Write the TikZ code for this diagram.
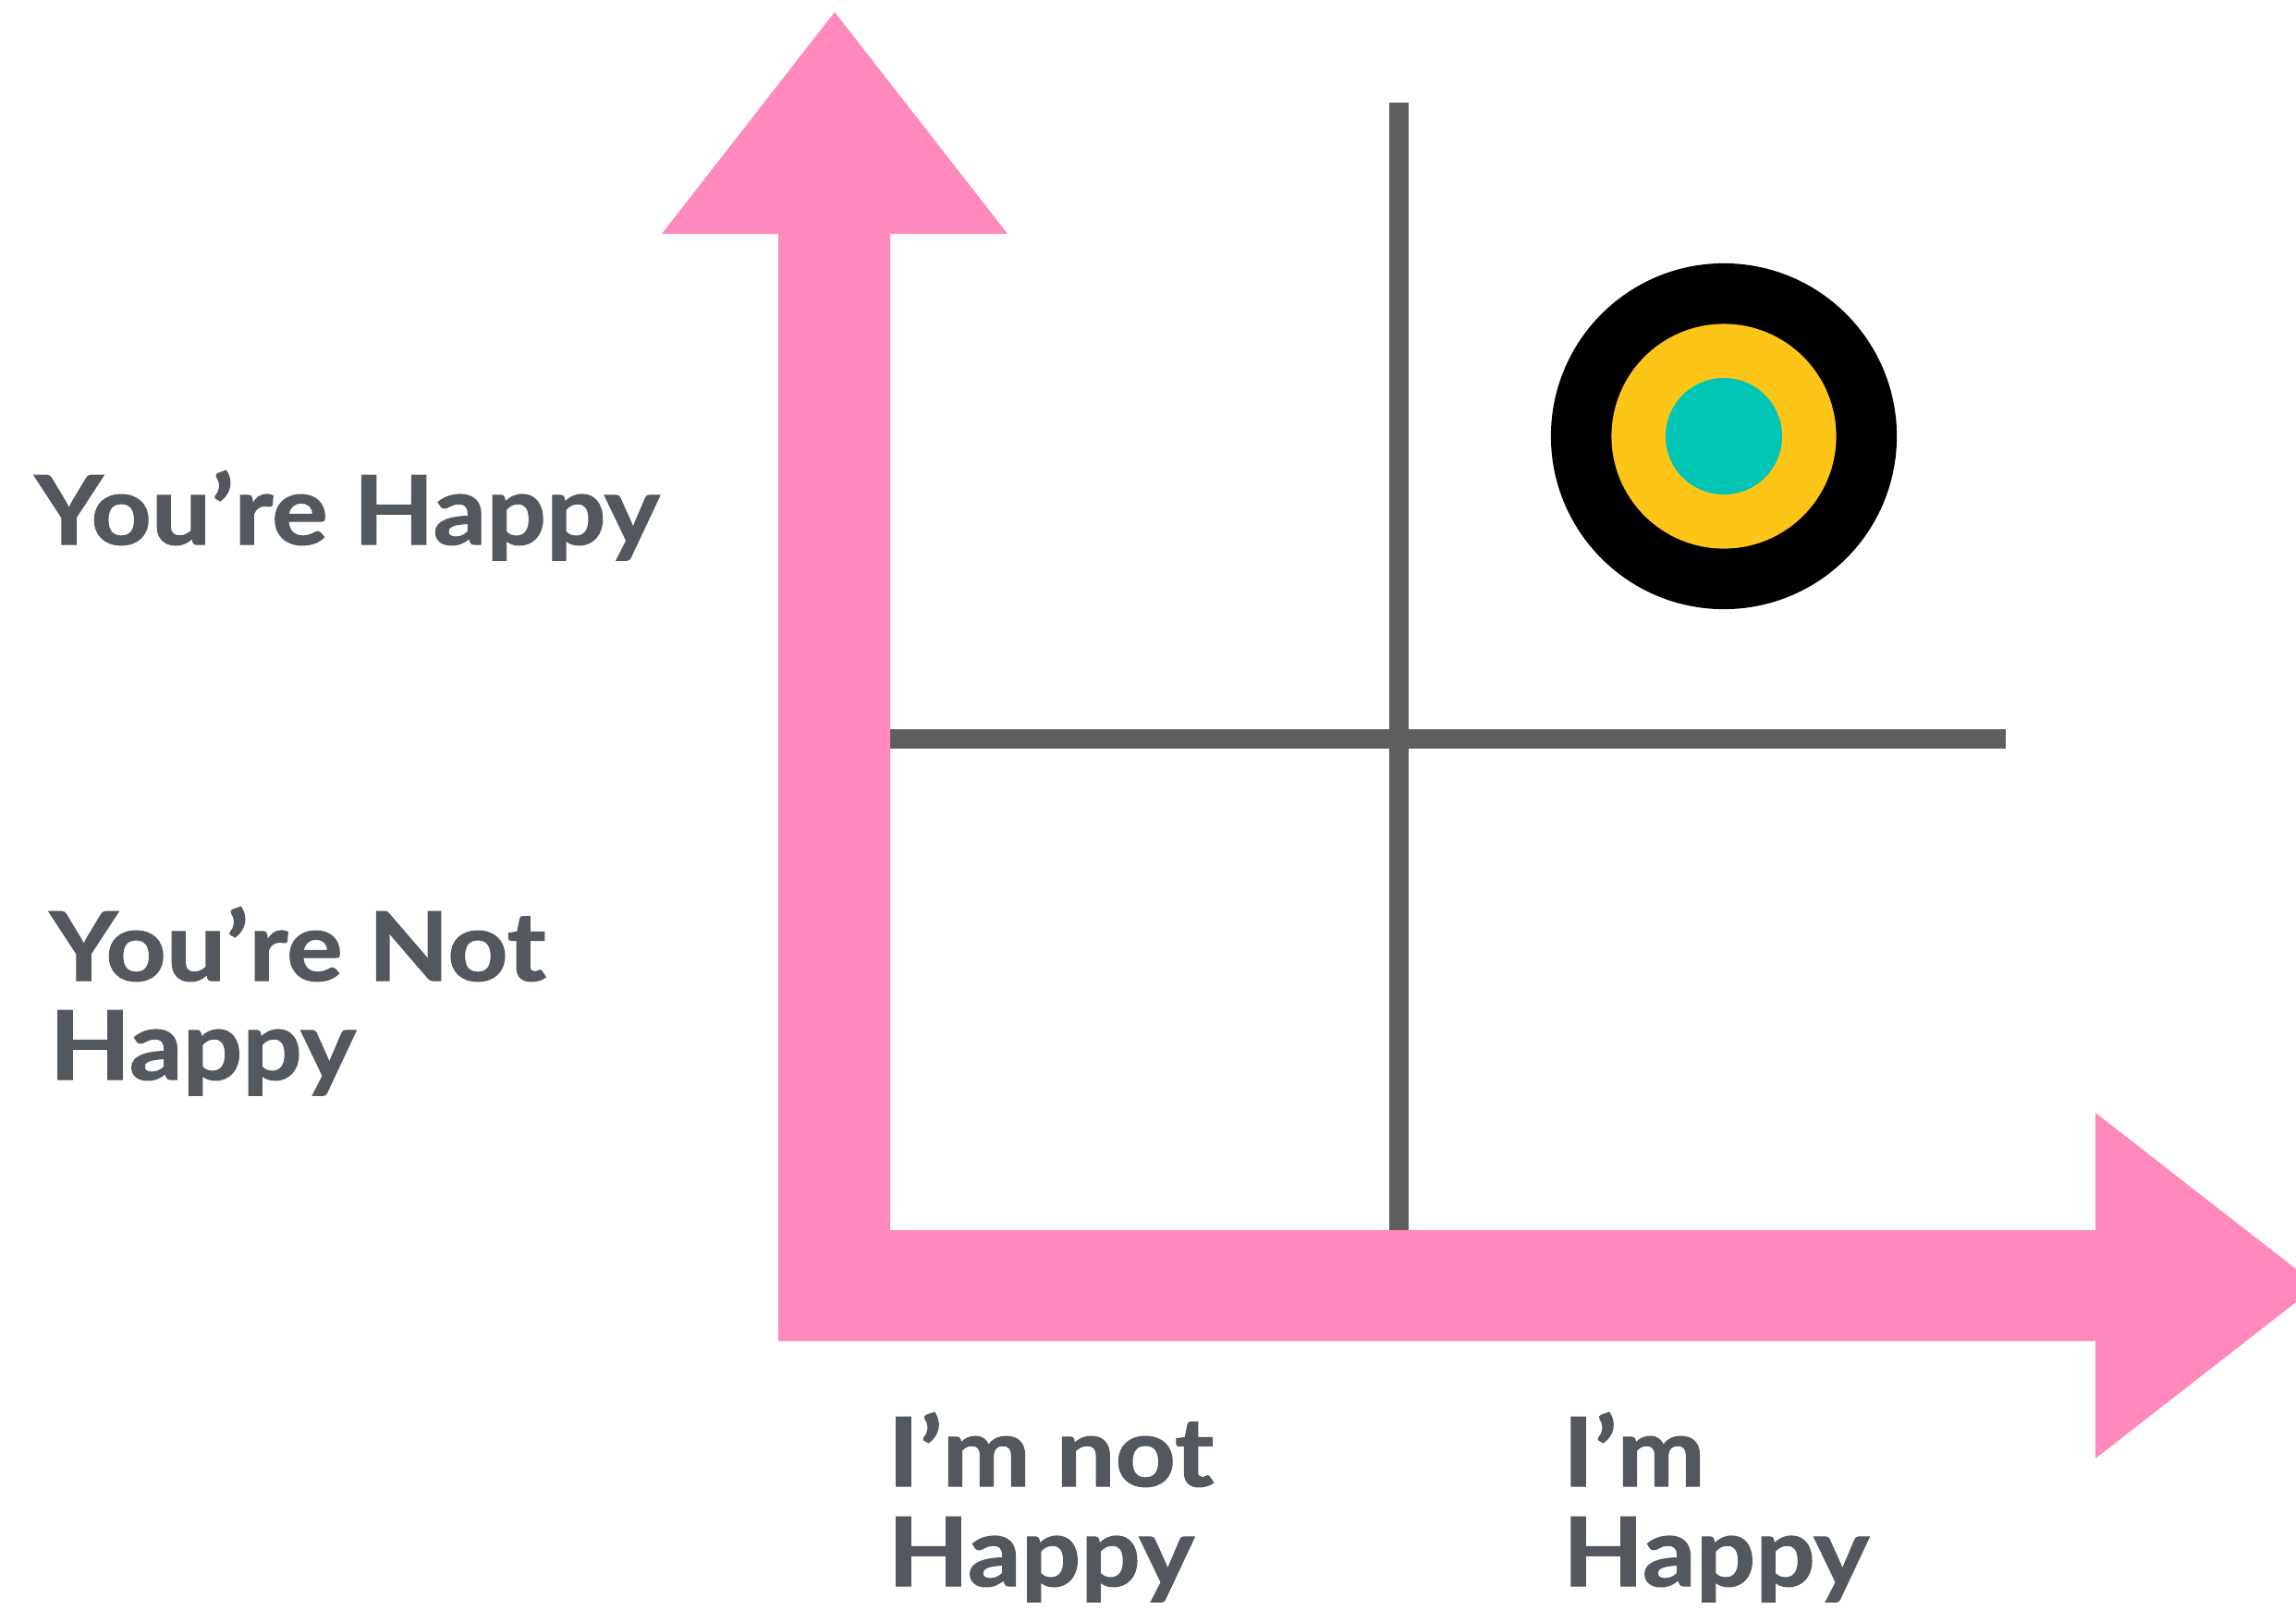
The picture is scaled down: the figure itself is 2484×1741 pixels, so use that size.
\documentclass[tikz,border=0pt]{standalone}
\usepackage{fontspec}
\newfontfamily\labfont{Lato}[FakeStretch=1.1,FakeBold=1.2]
\definecolor{pinkax}{RGB}{255,137,188}
\definecolor{grayln}{RGB}{94,94,94}
\definecolor{txtgray}{RGB}{83,87,94}
\definecolor{tgtyellow}{RGB}{253,197,23}
\definecolor{tgtteal}{RGB}{0,196,180}
\begin{document}
\begin{tikzpicture}[x=0.01cm,y=-0.01cm,
  lab/.style={anchor=base west,inner sep=0pt,text=txtgray,font=\labfont\bfseries\fontsize{29.4}{35}\selectfont}]
\clip (0,0) rectangle (2484,1741);
\fill[white] (0,0) rectangle (2484,1741);
% grid lines
\fill[grayln] (1503,111) rectangle (1524,1331);
\fill[grayln] (963,789) rectangle (2170,810);
% axes
\fill[pinkax] (716,253) -- (903,13) -- (1090,253) -- (963,253) -- (963,1331)
  -- (2267,1331) -- (2267,1204) -- (2507,1391) -- (2267,1578) -- (2267,1451)
  -- (842,1451) -- (842,253) -- cycle;
% target
\node[circle,fill=black,minimum size=3.74cm,inner sep=0pt] (outer) at (1865,472) {};
\node[circle,fill=tgtyellow,minimum size=2.43cm,inner sep=0pt] (middle) at (outer.center) {};
\node[circle,fill=tgtteal,minimum size=1.26cm,inner sep=0pt] (inner) at (outer.center) {};
% labels
\node[lab] (yh) at (37,589) {You’re Happy};
\node[lab] (ynh1) at (53,1061) {You’re Not};
\node[lab] (ynh2) at (53,1168) {Happy};
\node[lab] (inh1) at (960,1608) {I’m not};
\node[lab] (inh2) at (960,1716) {Happy};
\node[lab] (ih1) at (1690,1608) {I’m};
\node[lab] (ih2) at (1690,1716) {Happy};
\end{tikzpicture}
\end{document}
